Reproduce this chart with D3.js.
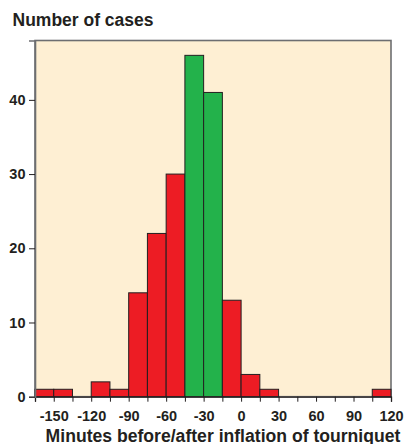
<!DOCTYPE html>
<html><head><meta charset="utf-8">
<script src="https://cdn.jsdelivr.net/npm/d3@7/dist/d3.min.js"></script>
<style>body{margin:0;background:#fff;}svg{display:block;font-family:"Liberation Sans",Arial,sans-serif;}</style>
</head><body>
<svg id="c" width="404" height="444"></svg>
<script>
const binStarts = [-165,-150,-135,-120,-105,-90,-75,-60,-45,-30,-15,0,15,30,45,60,75,90,105];
const counts    = [1,1,0,2,1,14,22,30,46,41,13,3,1,0,0,0,0,0,1];
const highlight = [0,0,0,0,0,0,0,0,1,1,0,0,0,0,0,0,0,0,0];
const binWidth = 15;
const xTickValues = [-165,-150,-135,-120,-105,-90,-75,-60,-45,-30,-15,0,15,30,45,60,75,90,105,120];
const xTickLabels = [-150,-120,-90,-60,-30,0,30,60,90,120];
const yTicks = [0,10,20,30,40];

const svg = d3.select("#c");
const L=35, R=391, T=40.5, B=396.7;
const x = d3.scaleLinear().domain([-165,120]).range([L,R]);
const y = d3.scaleLinear().domain([0,48]).range([B,T]);
const ink = "#231f20";

svg.append("rect").attr("x",L).attr("y",T).attr("width",R-L).attr("height",B-T)
  .attr("fill","#feefd3").attr("stroke","#6d6e71").attr("stroke-width",1.6);

const data = binStarts.map((s,i)=>({s,c:counts[i],g:highlight[i]})).filter(d=>d.c>0);
svg.append("g").selectAll("rect").data(data).join("rect")
  .attr("x",d=>x(d.s)).attr("width",d=>x(d.s+binWidth)-x(d.s))
  .attr("y",d=>y(d.c)).attr("height",d=>y(0)-y(d.c))
  .attr("fill",d=>d.g?"#23b24b":"#ed1c24").attr("stroke",ink).attr("stroke-width",1);

// x axis
const xa = svg.append("g").attr("transform",`translate(0,${B})`)
  .call(d3.axisBottom(x).tickValues(xTickValues).tickSize(5).tickFormat(d=>xTickLabels.includes(d)?d:""));
xa.select(".domain").attr("stroke",ink).attr("stroke-width",1.3);
xa.selectAll(".tick line").attr("stroke",ink).attr("stroke-width",1);
xa.selectAll(".tick text").attr("fill",ink).attr("font-size",14.5).attr("font-weight","bold")
  .attr("y",0).attr("dy",null).attr("transform","translate(0,24.3)");

const ya = svg.append("g").attr("transform",`translate(${L},0)`)
  .call(d3.axisLeft(y).tickValues(yTicks).tickSize(6).tickPadding(3.5));
ya.select(".domain").attr("stroke","#6d6e71").attr("stroke-width",1.6);
ya.selectAll(".tick line").attr("stroke",ink).attr("stroke-width",1);
ya.selectAll(".tick text").attr("fill",ink).attr("font-size",14.5).attr("font-weight","bold");

svg.append("text").attr("x",12.5).attr("y",26).attr("font-size",17.5).attr("font-weight","bold")
  .attr("fill",ink).text("Number of cases");
svg.append("text").attr("x",223).attr("y",441.5).attr("text-anchor","middle").attr("font-size",17.6).attr("font-weight","bold")
  .attr("fill",ink).text("Minutes before/after inflation of tourniquet");
</script>
</body></html>
